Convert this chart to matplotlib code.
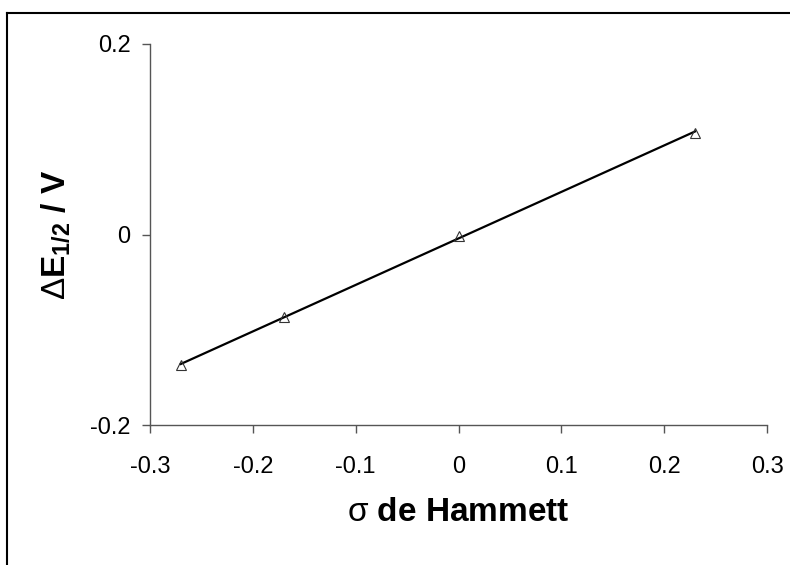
import numpy as np
import matplotlib
matplotlib.use('Agg')
import matplotlib.pyplot as plt
from matplotlib.lines import Line2D

plt.rcParams['font.family'] = ['Liberation Sans', 'DejaVu Sans']
plt.rcParams['axes.unicode_minus'] = False
plt.rcParams['mathtext.fontset'] = 'custom'
plt.rcParams['mathtext.rm'] = 'Liberation Sans'
plt.rcParams['mathtext.bf'] = 'Liberation Sans:bold'

# Hammett sigma vs half-wave potential shift
sigma = [-0.27, -0.17, 0.0, 0.23]
delta_e = [-0.137, -0.087, -0.002, 0.107]

x_ticks = [-0.3, -0.2, -0.1, 0, 0.1, 0.2, 0.3]
y_ticks = [-0.2, 0, 0.2]

fig = plt.figure(figsize=(7.9, 5.65), dpi=100)
ax = fig.add_axes([150 / 790, 1 - 425 / 565, 617 / 790, 381 / 565])

# linear trendline
p = np.polyfit(sigma, delta_e, 1)
xs = np.array([min(sigma), max(sigma)])
ax.plot(xs, np.polyval(p, xs), color='black', lw=1.6, zorder=2)
ax.plot(sigma, delta_e, ls='none', marker='^', ms=7.5, mfc='none',
        mec='#333333', mew=0.8, zorder=3)

ax.set_xlim(-0.3, 0.3)
ax.set_ylim(-0.2, 0.2)
ax.set_xticks(x_ticks, [f'{t:g}' for t in x_ticks])
ax.set_yticks(y_ticks, [f'{t:g}' for t in y_ticks])

for s in ['top', 'right']:
    ax.spines[s].set_visible(False)
for s in ['left', 'bottom']:
    ax.spines[s].set_color('#555555')
    ax.spines[s].set_linewidth(1.0)
ax.tick_params(direction='out', length=6, width=1.0, color='#555555',
               labelsize=17)
ax.tick_params(axis='x', pad=16)
ax.tick_params(axis='y', pad=8)

ax.set_xlabel(r'$\mathrm{\sigma}$ de Hammett', fontsize=24, fontweight='bold',
              labelpad=14)
ax.set_ylabel(r'$\mathrm{\Delta}\mathbf{E_{1/2}}$ / V', fontsize=24,
              fontweight='bold', labelpad=13)

# frame lines of the original picture
fig.add_artist(Line2D([7 / 790, 7 / 790], [0, 1 - 13 / 565], color='black', lw=1.5))
fig.add_artist(Line2D([7 / 790, 1], [1 - 13 / 565, 1 - 13 / 565], color='black', lw=1.5))

fig.savefig('out.png', dpi=100)
